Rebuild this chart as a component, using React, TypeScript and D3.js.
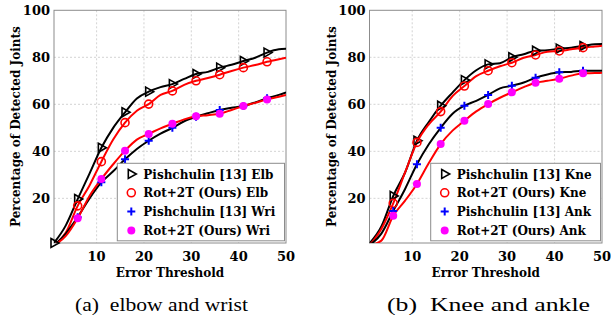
import React, { useEffect, useRef } from 'react';
import * as d3 from 'd3';

const thresholds = [1, 3.5, 6, 8.5, 11, 13.5, 16, 18.5, 21, 23.5, 26, 28.5, 31, 33.5, 36, 38.5, 41, 43.5, 46, 48.5, 50];
const markerAt = [1, 6, 11, 16, 21, 26, 31, 36, 41, 46];
const xTicks = [10, 20, 30, 40, 50];
const yTicks = [20, 40, 60, 80, 100];

// (a) elbow and wrist
const elbPishchulin = [1, 8.5, 19.7, 30.5, 41.5, 50, 56.6, 62.5, 65.4, 67.3, 68.6, 70.8, 72.9, 73.8, 75.6, 76.8, 78.4, 79.8, 82, 83.4, 83.6];
const elbOurs = [0, 5.5, 16.8, 25.5, 35.6, 45, 52.2, 57.3, 60.1, 64, 65.7, 68.3, 70, 71.2, 72.6, 74.2, 75.6, 76.7, 78.1, 79.2, 79.8];
const wriPishchulin = [0, 5, 12, 20, 26.8, 31.5, 36.6, 41, 44.5, 47.5, 50, 52.8, 54.7, 56.2, 57.6, 58.5, 59.3, 60.8, 62.6, 64, 65.1];
const wriOurs = [0, 4, 11.5, 21, 28.2, 34.5, 40.3, 45, 47.4, 49.8, 51.7, 53.6, 54.9, 55.4, 56, 57.6, 59.3, 60.6, 62.1, 63.2, 64];

// (b) knee and ankle
const knePishchulin = [0.8, 8, 21, 31, 44.5, 52.5, 59.4, 65, 70.3, 74.5, 77, 77.5, 80, 81.3, 82.8, 83, 83.7, 84.1, 84.8, 85.6, 85.7];
const kneOurs = [0, 7, 17.9, 31, 43.8, 51.5, 56.9, 63.5, 67.8, 72, 74.3, 76.2, 77.7, 79.8, 81, 82.4, 82.7, 83.4, 84.1, 84.6, 84.9];
const ankPishchulin = [0, 5, 14.6, 24, 34.5, 43, 50, 56, 59.4, 61.5, 64, 66.8, 67.9, 69.3, 71.3, 72.7, 73.6, 73.8, 74.3, 74.3, 74.3];
const ankOurs = [0, 2, 12.6, 19, 26.1, 35, 43.1, 48.8, 53, 57, 60.1, 62.8, 65.1, 67.3, 69.2, 70, 70.9, 72.2, 73.2, 73.3, 73.4];

const labelsA = ['Pishchulin [13] Elb', 'Rot+2T (Ours) Elb', 'Pishchulin [13] Wri', 'Rot+2T (Ours) Wri'];
const labelsB = ['Pishchulin [13] Kne', 'Rot+2T (Ours) Kne', 'Pishchulin [13] Ank', 'Rot+2T (Ours) Ank'];

const styles = [
  { line: '#000', marker: 'tri', color: '#000' },
  { line: '#f00', marker: 'circle', color: '#f00' },
  { line: '#000', marker: 'plus', color: '#00f' },
  { line: '#f00', marker: 'dot', color: '#f0f' },
];

const BOLD = '"DejaVu Serif", serif';
const ROMAN = '"Liberation Serif", serif';
const TOP = 10.3;
const BOTTOM = 243;

const drawMarker = (g, type, color, x, y) => {
  if (type === 'tri') {
    g.append('path')
      .attr('d', `M${x - 3},${y - 4.5}L${x + 5},${y}L${x - 3},${y + 4.5}Z`)
      .attr('fill', 'none')
      .attr('stroke', color)
      .attr('stroke-width', 1.6);
  } else if (type === 'circle') {
    g.append('circle').attr('cx', x).attr('cy', y).attr('r', 4)
      .attr('fill', 'none').attr('stroke', color).attr('stroke-width', 1.6);
  } else if (type === 'plus') {
    g.append('path')
      .attr('d', `M${x - 4},${y}H${x + 4}M${x},${y - 4}V${y + 4}`)
      .attr('stroke', color)
      .attr('stroke-width', 2);
  } else {
    g.append('circle').attr('cx', x).attr('cy', y).attr('r', 4).attr('fill', color);
  }
};

const drawPanel = (svg, id, series, labels, x0, x1, legendX, yLabelX, caption, capX, capW) => {
  const g = svg.append('g');
  const x = d3.scaleLinear().domain([1, 50]).range([x0, x1]);
  const y = d3.scaleLinear().domain([1, 100]).range([BOTTOM, TOP]);

  g.append('clipPath').attr('id', id).append('rect')
    .attr('x', x0).attr('y', TOP).attr('width', x1 - x0).attr('height', BOTTOM - TOP);

  // grid
  g.selectAll('.gx').data(xTicks.slice(0, -1)).enter().append('line')
    .attr('x1', (d) => x(d)).attr('x2', (d) => x(d)).attr('y1', TOP).attr('y2', BOTTOM)
    .attr('stroke', '#c8c8c8').attr('stroke-width', 0.8).attr('stroke-dasharray', '2,2');
  g.selectAll('.gy').data(yTicks.slice(0, -1)).enter().append('line')
    .attr('x1', x0).attr('x2', x1).attr('y1', (d) => y(d)).attr('y2', (d) => y(d))
    .attr('stroke', '#c8c8c8').attr('stroke-width', 0.8).attr('stroke-dasharray', '2,2');

  // frame
  g.append('rect').attr('x', x0).attr('y', TOP).attr('width', x1 - x0).attr('height', BOTTOM - TOP)
    .attr('fill', 'none').attr('stroke', '#8c8c8c').attr('stroke-width', 1);

  // lines + markers
  const line = d3.line().x((d) => x(d[0])).y((d) => y(d[1])).curve(d3.curveMonotoneX);
  const plot = g.append('g').attr('clip-path', `url(#${id})`);
  series.forEach((vals, i) => {
    const pts = thresholds.map((t, j) => [t, vals[j]]);
    plot.append('path').attr('d', line(pts)).attr('fill', 'none')
      .attr('stroke', styles[i].line).attr('stroke-width', 2);
  });
  const marks = g.append('g');
  series.forEach((vals, i) => {
    thresholds.forEach((t, j) => {
      if (markerAt.includes(t) && vals[j] >= 1) drawMarker(marks, styles[i].marker, styles[i].color, x(t), y(vals[j]));
    });
  });

  // ticks
  g.selectAll('.ty').data(yTicks).enter().append('text')
    .attr('x', x0 - 4).attr('y', (d) => y(d) + 4.7).attr('text-anchor', 'end')
    .attr('font-family', BOLD).attr('font-weight', 'bold').attr('font-size', 13)
    .text((d) => d);
  g.selectAll('.tx').data(xTicks).enter().append('text')
    .attr('x', (d) => x(d)).attr('y', 261).attr('text-anchor', 'middle')
    .attr('font-family', BOLD).attr('font-weight', 'bold').attr('font-size', 13)
    .text((d) => d);

  g.append('text').attr('x', (x0 + x1) / 2).attr('y', 276.5).attr('text-anchor', 'middle')
    .attr('font-family', BOLD).attr('font-weight', 'bold').attr('font-size', 12)
    .text('Error Threshold');
  g.append('text').attr('transform', `translate(${yLabelX},${(TOP + BOTTOM) / 2}) rotate(-90)`)
    .attr('text-anchor', 'middle')
    .attr('font-family', BOLD).attr('font-weight', 'bold').attr('font-size', 12)
    .text('Percentage of Detected Joints');

  // legend
  const lg = g.append('g');
  lg.append('rect').attr('x', legendX).attr('y', 163.3).attr('width', x1 - 1.5 - legendX).attr('height', 77.5)
    .attr('fill', '#fff').attr('stroke', '#8c8c8c').attr('stroke-width', 1);
  labels.forEach((lab, i) => {
    const cy = 174 + i * 18.8;
    drawMarker(lg, styles[i].marker, styles[i].color, legendX + 14, cy);
    lg.append('text').attr('x', legendX + 26).attr('y', cy + 4.5)
      .attr('font-family', BOLD).attr('font-weight', 'bold').attr('font-size', 12)
      .text(lab);
  });

  g.append('text').attr('x', capX).attr('y', 311).attr('text-anchor', 'middle')
    .attr('font-family', ROMAN).attr('font-size', 19.5)
    .attr('textLength', capW).attr('lengthAdjust', 'spacingAndGlyphs')
    .style('white-space', 'pre')
    .text(caption);
};

const App = () => {
  const svgRef = useRef();

  useEffect(() => {
    const svg = d3.select(svgRef.current);
    svg.selectAll('*').remove();
    drawPanel(svg, 'clipA', [elbPishchulin, elbOurs, wriPishchulin, wriOurs], labelsA, 54, 286, 117.3, 19.5, '(a)  elbow and wrist', 161.5, 173);
    drawPanel(svg, 'clipB', [knePishchulin, kneOurs, ankPishchulin, ankOurs], labelsB, 369.5, 602, 430.7, 335.5, '(b)  Knee and ankle', 488.5, 203);
  }, []);

  return (
    <svg ref={svgRef} width={611} height={317}
      style={{ position: 'absolute', left: 0, top: 0, background: '#fff' }} />
  );
};

export default App;
